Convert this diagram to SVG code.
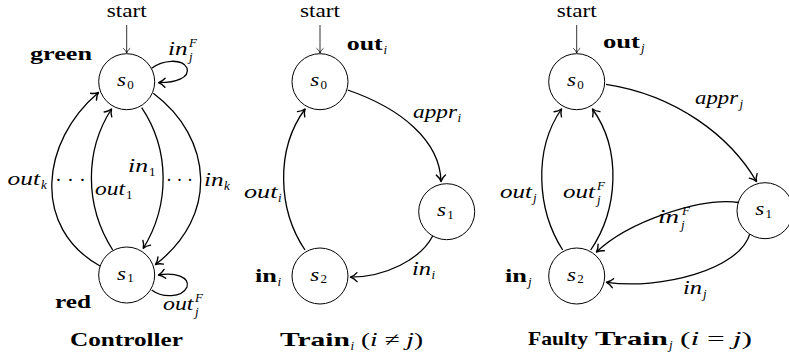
<svg xmlns="http://www.w3.org/2000/svg" width="789" height="358" viewBox="0 0 789 358" font-family="'Liberation Serif', 'DejaVu Serif', serif">
<style>
text{font-family:'Liberation Serif','DejaVu Serif',serif;fill:#000}
.r{font-family:'Liberation Serif','DejaVu Serif',serif;font-size:19px}
.m{font-family:'Liberation Serif','DejaVu Serif',serif;font-size:19px;font-style:italic}
.b{font-family:'Liberation Serif','DejaVu Serif',serif;font-size:19px;font-weight:bold}
.ms{font-family:'Liberation Serif','DejaVu Serif',serif;font-size:13px;font-style:italic}
.ns{font-family:'Liberation Serif','DejaVu Serif',serif;font-size:13px}
.e{fill:none;stroke:#000;stroke-width:1.3;marker-end:url(#ah)}
.st{fill:none;stroke:#000;stroke-width:0.8;marker-end:url(#sa)}
circle{fill:#fff;stroke:#000;stroke-width:1}
</style>
<defs>
<marker id="ah" markerUnits="userSpaceOnUse" viewBox="-8 -6 10 12" refX="0" refY="0" markerWidth="10" markerHeight="12" orient="auto" overflow="visible">
<path d="M-6.5,-4.5 C-4.5,-2.2 -1.8,-0.6 0,0 C-1.8,0.6 -4.5,2.2 -6.5,4.5" fill="none" stroke="#000" stroke-width="1.4" stroke-linecap="round" stroke-linejoin="round"/>
</marker>
<marker id="sa" markerUnits="userSpaceOnUse" viewBox="-6 -4 7 8" refX="0" refY="0" markerWidth="7" markerHeight="8" orient="auto" overflow="visible">
<path d="M-4.5,-3.2 C-3.2,-1.5 -1.2,-0.4 0,0 C-1.2,0.4 -3.2,1.5 -4.5,3.2" fill="none" stroke="#000" stroke-width="0.8" stroke-linecap="round"/>
</marker>
</defs>

<g id="connectors">
<path class="st" d="M126.7,25 L126.7,53"/>
<path class="e" d="M100,266 C32,228 40,142 98.5,92.5"/>
<path class="e" d="M112.7,250 C84,205 85,150 111.5,109"/>
<path class="e" d="M141.7,107.7 C170,150 170,205 143.3,248.3"/>
<path class="e" d="M153.3,93.3 C213,138 219,216 155.5,264.5"/>
<path class="e" d="M151.7,68.3 C162,60 182,58 187,68 C190,78 175,83 158.5,82.7"/>
<path class="e" d="M151.7,290 C162,298 182,298 187,287 C190,277 175,272 158.5,275"/>
<path class="st" d="M320,25 L320,53"/>
<path class="e" d="M347.7,90 C400,108 440,140 441,181.5"/>
<path class="e" d="M432.7,236 C420,260 385,277 350.5,277.2"/>
<path class="e" d="M305,250 C278,210 275,150 305,109"/>
<path class="st" d="M576.7,25 L576.7,53"/>
<path class="e" d="M606,84.3 C676,95 730,136 756.5,181.5"/>
<path class="e" d="M739,202.5 C700,197 628,222 596.5,252"/>
<path class="e" d="M750,233.3 C740,270 660,290 606.5,282.3"/>
<path class="e" d="M562.7,250 C537,210 533,150 561.5,109"/>
<path class="e" d="M590.7,250 C618,210 622,150 592.5,109"/>
</g>

<g id="edge-labels">
<text class="r" x="126.7" y="17" text-anchor="middle" textLength="40" lengthAdjust="spacingAndGlyphs">start</text>
<text class="r" x="320" y="17" text-anchor="middle" textLength="40" lengthAdjust="spacingAndGlyphs">start</text>
<text class="r" x="576.7" y="17" text-anchor="middle" textLength="40" lengthAdjust="spacingAndGlyphs">start</text>

<text class="m" x="7.5" y="185" textLength="32.5" lengthAdjust="spacingAndGlyphs">out</text><text class="ms" x="41" y="188.5">k</text>
<text class="r" x="55" y="186" textLength="31" lengthAdjust="spacingAndGlyphs">· · ·</text>
<text class="m" x="95" y="195" textLength="30" lengthAdjust="spacingAndGlyphs">out</text><text class="ns" x="126" y="198.5">1</text>
<text class="m" x="128" y="172" textLength="20" lengthAdjust="spacingAndGlyphs">in</text><text class="ns" x="149" y="175.5">1</text>
<text class="r" x="166" y="186" textLength="27" lengthAdjust="spacingAndGlyphs">· · ·</text>
<text class="m" x="204" y="186" textLength="19.5" lengthAdjust="spacingAndGlyphs">in</text><text class="ms" x="224" y="189.5">k</text>
<text class="m" x="168" y="55" textLength="19.5" lengthAdjust="spacingAndGlyphs">in</text><text class="ms" x="189" y="46.5">F</text><text class="ms" x="189" y="61">j</text>
<text class="m" x="163" y="310" textLength="30.5" lengthAdjust="spacingAndGlyphs">out</text><text class="ms" x="195" y="301.5">F</text><text class="ms" x="195" y="316">j</text>

<text class="m" x="413" y="118" textLength="44" lengthAdjust="spacingAndGlyphs">appr</text><text class="ms" x="457.5" y="121.5">i</text>
<text class="m" x="244" y="198" textLength="33.5" lengthAdjust="spacingAndGlyphs">out</text><text class="ms" x="278" y="201.5">i</text>
<text class="m" x="412" y="275" textLength="19" lengthAdjust="spacingAndGlyphs">in</text><text class="ms" x="431.5" y="278.5">i</text>

<text class="m" x="695" y="104" textLength="43" lengthAdjust="spacingAndGlyphs">appr</text><text class="ms" x="739.5" y="107.5">j</text>
<text class="m" x="500" y="198" textLength="32" lengthAdjust="spacingAndGlyphs">out</text><text class="ms" x="533" y="201.5">j</text>
<text class="m" x="563" y="198" textLength="32" lengthAdjust="spacingAndGlyphs">out</text><text class="ms" x="597" y="189.5">F</text><text class="ms" x="597" y="204">j</text>
<text class="m" x="658" y="223" textLength="21" lengthAdjust="spacingAndGlyphs">in</text><text class="ms" x="682" y="214.5">F</text><text class="ms" x="681" y="229">j</text>
<text class="m" x="683" y="294" textLength="19" lengthAdjust="spacingAndGlyphs">in</text><text class="ms" x="703" y="297.5">j</text>
</g>

<g id="ctrl-s0">
<circle cx="126.7" cy="81.7" r="28"/>
<text class="m" x="117" y="86.2" textLength="9" lengthAdjust="spacingAndGlyphs">s</text><text class="ns" x="127.3" y="89">0</text>
<text class="b" x="30" y="60" textLength="62" lengthAdjust="spacingAndGlyphs">green</text>
</g>
<g id="ctrl-s1">
<circle cx="126.7" cy="275" r="28"/>
<text class="m" x="117" y="279.5" textLength="9" lengthAdjust="spacingAndGlyphs">s</text><text class="ns" x="127.3" y="282.3">1</text>
<text class="b" x="55" y="308" textLength="36" lengthAdjust="spacingAndGlyphs">red</text>
</g>

<g id="train-s0">
<circle cx="320" cy="81.7" r="28"/>
<text class="m" x="310.3" y="86.2" textLength="9" lengthAdjust="spacingAndGlyphs">s</text><text class="ns" x="320.6" y="89">0</text>
<text class="b" x="346.7" y="50" textLength="36" lengthAdjust="spacingAndGlyphs">out</text><text class="ms" x="383.5" y="53.5">i</text>
</g>
<g id="train-s1">
<circle cx="446.7" cy="211.7" r="28"/>
<text class="m" x="437" y="216.2" textLength="9" lengthAdjust="spacingAndGlyphs">s</text><text class="ns" x="447.3" y="219">1</text>
</g>
<g id="train-s2">
<circle cx="320" cy="276" r="28"/>
<text class="m" x="310.3" y="280.5" textLength="9" lengthAdjust="spacingAndGlyphs">s</text><text class="ns" x="320.6" y="283.3">2</text>
<text class="b" x="255" y="282" textLength="22" lengthAdjust="spacingAndGlyphs">in</text><text class="ms" x="277.5" y="285.5">i</text>
</g>

<g id="faulty-s0">
<circle cx="576.7" cy="81.7" r="28"/>
<text class="m" x="567" y="86.2" textLength="9" lengthAdjust="spacingAndGlyphs">s</text><text class="ns" x="577.3" y="89">0</text>
<text class="b" x="603" y="48" textLength="37" lengthAdjust="spacingAndGlyphs">out</text><text class="ms" x="641" y="51.5">j</text>
</g>
<g id="faulty-s1">
<circle cx="765" cy="210.7" r="28"/>
<text class="m" x="755.3" y="215.2" textLength="9" lengthAdjust="spacingAndGlyphs">s</text><text class="ns" x="765.6" y="218">1</text>
</g>
<g id="faulty-s2">
<circle cx="576.7" cy="276" r="28"/>
<text class="m" x="567" y="280.5" textLength="9" lengthAdjust="spacingAndGlyphs">s</text><text class="ns" x="577.3" y="283.3">2</text>
<text class="b" x="505" y="282" textLength="22" lengthAdjust="spacingAndGlyphs">in</text><text class="ms" x="528" y="285.5">j</text>
</g>

<g id="captions">
<text class="b" x="70" y="346" textLength="113" lengthAdjust="spacingAndGlyphs">Controller</text>
<text class="b" x="280" y="346" textLength="70" lengthAdjust="spacingAndGlyphs">Train</text><text class="ms" x="350.5" y="349.5">i</text>
<text class="r" x="361" y="346" textLength="62" lengthAdjust="spacingAndGlyphs">(<tspan font-style="italic">i</tspan> ≠ <tspan font-style="italic">j</tspan>)</text>
<text class="b" x="528" y="345" textLength="60" lengthAdjust="spacingAndGlyphs">Faulty</text>
<text class="b" x="595" y="345" textLength="73" lengthAdjust="spacingAndGlyphs">Train</text><text class="ms" x="669" y="348.5">j</text>
<text class="r" x="680" y="345" textLength="72" lengthAdjust="spacingAndGlyphs">(<tspan font-style="italic">i</tspan> = <tspan font-style="italic">j</tspan>)</text>
</g>
</svg>
